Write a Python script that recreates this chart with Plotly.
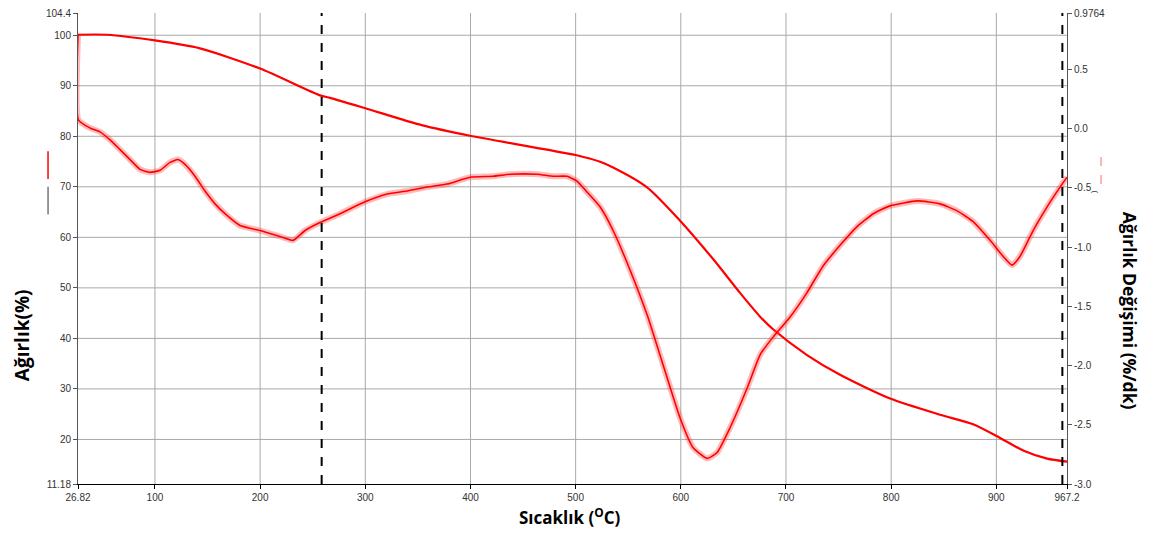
import plotly.graph_objects as go

# Temperature range of the run (°C)
T_START = 26.82
T_END = 967.2

# Weight-axis and rate-axis limits
W_MIN, W_MAX = 11.18, 104.4
D_MIN, D_MAX = -3.0, 0.9764

# TGA curve: weight (%) vs temperature
tga_temp = [26.82, 54.4, 100.0, 142.8, 199.9, 256.9, 266.5, 300.0, 353.6, 399.6,
            501.0, 523.2, 535.6, 567.9, 599.3, 630.7, 656.3, 675.4, 687.7, 720.0,
            751.4, 799.0, 846.5, 877.9, 903.6, 925.5, 948.3, 967.2]
tga_weight = [100.1, 100.1, 98.97, 97.4, 93.4, 88.1, 87.6, 85.55, 82.2, 80.1,
              76.24, 74.95, 73.83, 69.9, 63.3, 55.7, 49.0, 44.3, 41.8, 36.7,
              32.8, 28.1, 24.9, 23.0, 20.3, 17.8, 16.2, 15.6]

# DTG curve: weight change rate (%/dk) vs temperature
dtg_temp = [26.82, 27.3, 38.2, 47.7, 57.3, 66.8, 76.3, 85.8, 95.3, 104.8,
            114.3, 121.9, 128.6, 138.1, 147.6, 157.1, 166.6, 180.9, 199.9, 218.9,
            231.3, 242.7, 256.9, 275.9, 299.7, 320.7, 339.7, 358.7, 377.7, 399.6,
            421.5, 437.6, 463.3, 478.5, 491.8, 501.3, 510.8, 523.2, 535.6, 551.7,
            568.1, 583.1, 599.3, 611.6, 625.0, 634.5, 646.8, 663.0, 675.4, 687.7,
            703.9, 720.0, 735.3, 751.4, 767.6, 783.0, 799.0, 824.7, 846.5, 862.7,
            878.0, 894.1, 906.4, 915.0, 922.6, 935.0, 948.3, 960.6, 967.2]
dtg_rate = [0.79, 0.073, 0.006, -0.027, -0.094, -0.177, -0.261, -0.344, -0.369, -0.352,
            -0.285, -0.261, -0.302, -0.402, -0.527, -0.635, -0.718, -0.818, -0.860, -0.910,
            -0.943, -0.860, -0.793, -0.718, -0.618, -0.552, -0.527, -0.493, -0.468, -0.410,
            -0.402, -0.385, -0.385, -0.402, -0.402, -0.443, -0.535, -0.660, -0.860, -1.193,
            -1.576, -1.993, -2.442, -2.692, -2.784, -2.734, -2.525, -2.192, -1.909, -1.760,
            -1.590, -1.384, -1.159, -0.985, -0.827, -0.718, -0.652, -0.610, -0.635, -0.694,
            -0.785, -0.943, -1.077, -1.152, -1.077, -0.860, -0.660, -0.494, -0.410]

# Axis ticks
x_ticks = [26.82, 100, 200, 300, 400, 500, 600, 700, 800, 900, 967.2]
x_tick_text = ["26.82", "100", "200", "300", "400", "500", "600", "700", "800", "900", "967.2"]
y_ticks = [11.18, 20, 30, 40, 50, 60, 70, 80, 90, 100, 104.4]
y_tick_text = ["11.18", "20", "30", "40", "50", "60", "70", "80", "90", "100", "104.4"]
y2_ticks = [-3.0, -2.5, -2.0, -1.5, -1.0, -0.5, 0.0, 0.5, 0.9764]
y2_tick_text = ["-3.0", "-2.5", "-2.0", "-1.5", "-1.0", "-0.5", "0.0", "0.5", "0.9764"]

# Grid positions and marker lines for the analysis window
x_grid = [100, 200, 300, 400, 500, 600, 700, 800, 900]
y_grid = [20, 30, 40, 50, 60, 70, 80, 90, 100]
window_temps = [258.5, 962.8]

RED = "#ff0000"
GRID = "#a8a8a8"
TICK_FONT = dict(family="Liberation Sans, Arial", size=10, color="#333333")
TITLE_FONT = dict(family="Open Sans, Noto Sans", size=17, color="#000000")
LEFT_TITLE_FONT = dict(family="Open Sans, Noto Sans", size=19, color="#000000")

fig = go.Figure()

# DTG: soft band under the rate line, then the line itself
fig.add_trace(go.Scatter(x=dtg_temp, y=dtg_rate, yaxis="y2", mode="lines",
                         line=dict(color="rgba(255,60,60,0.35)", width=6,
                                   shape="spline", smoothing=0.5),
                         hoverinfo="skip", showlegend=False))
fig.add_trace(go.Scatter(x=dtg_temp, y=dtg_rate, yaxis="y2", mode="lines",
                         line=dict(color=RED, width=1.6, shape="spline", smoothing=0.5),
                         name="DTG", showlegend=False))
# TGA weight curve
fig.add_trace(go.Scatter(x=tga_temp, y=tga_weight, mode="lines",
                         line=dict(color=RED, width=2.2, shape="spline", smoothing=0.7),
                         name="TGA", showlegend=False))

shapes = []
for gx in x_grid:
    shapes.append(dict(type="line", xref="x", yref="paper", x0=gx, x1=gx, y0=0, y1=1,
                       line=dict(color=GRID, width=1), layer="below"))
for gy in y_grid:
    shapes.append(dict(type="line", xref="paper", yref="y", x0=0, x1=1, y0=gy, y1=gy,
                       line=dict(color=GRID, width=1), layer="below"))
for wt in window_temps:
    shapes.append(dict(type="line", xref="x", yref="paper", x0=wt, x1=wt, y0=0, y1=1,
                       line=dict(color="#000000", width=2, dash="dash")))

# Leftover legend keys beside the axes
shapes += [
    dict(type="line", xref="paper", yref="paper", x0=-0.0303, x1=-0.0303, y0=0.6478, y1=0.7065,
         line=dict(color=RED, width=1.5)),
    dict(type="line", xref="paper", yref="paper", x0=-0.0303, x1=-0.0303, y0=0.5723, y1=0.631,
         line=dict(color="#333333", width=1)),
    dict(type="line", xref="paper", yref="paper", x0=1.0344, x1=1.0344, y0=0.637, y1=0.696,
         line=dict(color="rgba(255,80,80,0.7)", width=1.2, dash="dash")),
]

annotations = [
    dict(text="<b>Ağırlık(%)</b>", xref="paper", yref="paper", x=-0.0566, y=0.316,
         showarrow=False, textangle=-90, font=LEFT_TITLE_FONT, xanchor="center", yanchor="middle"),
    dict(text="<b>Ağırlık Değişimi (%/dk)</b>", xref="paper", yref="paper", x=1.0637, y=0.368,
         showarrow=False, textangle=90, font=dict(TITLE_FONT, size=17.5),
         xanchor="center", yanchor="middle"),
    dict(text="<b>Sıcaklık (<sup>O</sup>C)</b>", xref="paper", yref="paper", x=0.497, y=-0.069,
         showarrow=False, font=TITLE_FONT, xanchor="center", yanchor="middle"),
    dict(text="(", xref="paper", yref="paper", x=1.0354, y=0.620, showarrow=False,
         textangle=90, font=dict(family="Liberation Sans", size=8, color="#333333")),
]

fig.update_layout(
    width=1162, height=538,
    margin=dict(l=78, r=95, t=7, b=54),
    paper_bgcolor="white", plot_bgcolor="white",
    shapes=shapes, annotations=annotations,
    xaxis=dict(range=[T_START, T_END], tickmode="array", tickvals=x_ticks, ticktext=x_tick_text,
               showgrid=False, zeroline=False, showline=True, linecolor="#000000", linewidth=1,
               ticks="outside", ticklen=4, tickcolor="#000000", tickfont=TICK_FONT),
    yaxis=dict(range=[W_MIN, W_MAX], tickmode="array", tickvals=y_ticks, ticktext=y_tick_text,
               showgrid=False, zeroline=False, showline=True, linecolor="#555555", linewidth=1,
               ticks="outside", ticklen=4, tickcolor="#555555", tickfont=TICK_FONT),
    yaxis2=dict(range=[D_MIN, D_MAX], overlaying="y", side="right", tickmode="array",
                tickvals=y2_ticks, ticktext=y2_tick_text, showgrid=False, zeroline=False,
                showline=True, linecolor="#555555", linewidth=1, ticks="outside", ticklen=4,
                tickcolor="#555555", tickfont=TICK_FONT),
)

fig.write_html("out.html")
